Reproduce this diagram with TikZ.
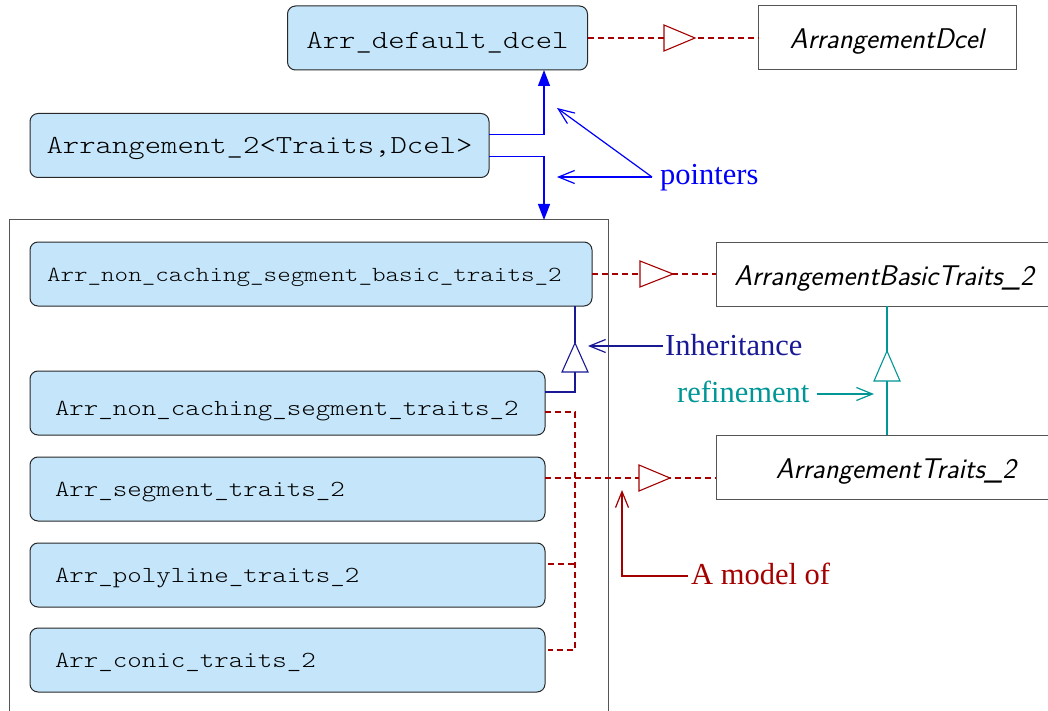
\documentclass[tikz,border=0pt]{standalone}
\usepackage{fontspec}
\setmainfont{Liberation Serif}
\setmonofont[FakeStretch=1.2]{Latin Modern Mono Light}
\usetikzlibrary{arrows.meta,calc}

\definecolor{boxfill}{RGB}{197,230,250}
\definecolor{boxline}{RGB}{40,40,40}
\definecolor{frameline}{RGB}{85,85,85}
\definecolor{ptrblue}{RGB}{0,0,250}
\definecolor{inhblue}{RGB}{25,25,150}
\definecolor{refteal}{RGB}{0,150,150}
\definecolor{modred}{RGB}{165,0,0}

\tikzset{
  classbox/.style={draw=boxline, fill=boxfill, rounded corners=8pt, line width=1pt,
    minimum height=64pt, inner ysep=0pt, outer sep=0pt, text depth=2pt},
  monobig/.style={font=\ttfamily\fontsize{26}{30}\selectfont},
  monosmall/.style={font=\ttfamily\fontsize{23}{28}\selectfont},
  conceptbox/.style={draw=frameline, fill=white, line width=1pt, minimum height=64pt,
    inner sep=0pt, outer sep=0pt, text height=24pt, text depth=2pt,
    font=\sffamily\itshape\fontsize{28.5}{32}\selectfont},
  lbl/.style={font=\fontsize{30.5}{34}\selectfont, inner sep=0pt, anchor=base west},
  realize/.style={draw=modred, dash pattern=on 6pt off 4pt, line width=1.1pt},
  hollowtri/.style={fill=white, line width=1.1pt, solid, line join=miter},
  ptr/.style={draw=ptrblue, line width=1.3pt, -{Triangle[length=16pt,width=12pt]}},
  barb/.style={line width=1.2pt, -{Straight Barb[length=16pt,width=13pt]}},
}

\begin{document}
\begin{tikzpicture}[x=1pt,y=-1pt]
\useasboundingbox (0,0) rectangle (1048,711);

% framing box of the traits classes
\node[draw=frameline, line width=1pt, minimum width=599pt, minimum height=500pt,
      anchor=north west, inner sep=0pt, outer sep=0pt] (cont) at (9,220) {};

% class boxes
\node[classbox, monobig, minimum width=300pt, text height=24pt] (dcel) at (437.5,38) {Arr\_default\_dcel};
\node[classbox, monobig, minimum width=459pt, text height=19pt] (arr) at (259.5,145.5) {Arrangement\_2<Traits,Dcel>};
\node[classbox, font=\ttfamily\fontsize{21.5}{26}\selectfont, inner xsep=17pt, text height=16pt,
      text width=528pt, align=left] (basic) at (311,274) {Arr\_non\_caching\_segment\_basic\_traits\_2};
\node[classbox, monosmall, inner xsep=25pt, text width=465pt, align=left, text height=26pt] (ncs) at (287.5,403) {Arr\_non\_caching\_segment\_traits\_2};
\node[classbox, monosmall, inner xsep=25pt, text width=465pt, align=left, text height=16pt] (seg) at (287.5,489) {Arr\_segment\_traits\_2};
\node[classbox, monosmall, inner xsep=25pt, text width=465pt, align=left, text height=16pt] (poly) at (287.5,575) {Arr\_polyline\_traits\_2};
\node[classbox, monosmall, inner xsep=25pt, text width=465pt, align=left, text height=16pt] (conic) at (287.5,660) {Arr\_conic\_traits\_2};

% concept boxes
\node[conceptbox, minimum width=258pt] (cdcel) at (887,38) {ArrangementDcel};
\node[conceptbox, minimum width=336pt] (cbasic) at (884,274) {ArrangementBasicTraits\_2};
\node[conceptbox, minimum width=360pt] (ctraits) at (896,467) {ArrangementTraits\_2};

% pointers from the arrangement
\coordinate (bus) at ($(arr.east)+(55,0)$);
\draw[ptr] ($(arr.east)+(0,-11)$) -| (bus |- dcel.south);
\draw[ptr] ($(arr.east)+(0,11)$) -| (bus |- cont.north);

% models of concepts (dashed realization)
\draw[realize] (dcel.east) -- (cdcel.west);
\draw[hollowtri, draw=modred] (664,25) -- (695,38) -- (664,51) -- cycle;
\draw[realize] (basic.east) -- (cbasic.west);
\draw[hollowtri, draw=modred] (640,261) -- (673,274) -- (640,287) -- cycle;
\draw[realize] ($(seg.east)+(0,-11)$) -- (ctraits.west |- 0,478);
\draw[hollowtri, draw=modred] (639,465) -- (670,478) -- (639,491) -- cycle;
\draw[realize] ($(ncs.east)+(0,9)$) -| ($(conic.east)+(30,-10)$) -- ($(conic.east)+(3,-10)$);
\draw[realize] ($(poly.east)+(3,-11)$) -- ($(poly.east)+(30,-11)$);

% inheritance
\draw[draw=inhblue, line width=1.2pt] ($(basic.south east)+(-17,0)$) -- (575,343);
\draw[hollowtri, draw=inhblue] (575,343) -- (588,372) -- (562,372) -- cycle;
\draw[draw=inhblue, line width=1.2pt] (575,372) |- ($(ncs.east)+(0,-11)$);

% refinement
\draw[draw=refteal, line width=1.2pt] ($(cbasic.south west)+(171,0)$) -- ($(ctraits.north west)+(171,0)$);
\draw[hollowtri, draw=refteal] (887,351) -- (900,381) -- (874,381) -- cycle;

% legend labels
\node[lbl, text=ptrblue] (ptrlbl) at (660,185) {pointers};
\draw[barb, draw=ptrblue] ($(ptrlbl.base west)+(-8,-8)$) -- (557,177);
\draw[barb, draw=ptrblue] ($(ptrlbl.base west)+(-8,-8)$) -- (557,108);

\node[lbl, text=inhblue] (inhlbl) at (665,355) {Inheritance};
\draw[barb, draw=inhblue] ($(inhlbl.base west)+(-2,-9)$) -- (588,346);

\node[lbl, text=refteal] (reflbl) at (677,402) {refinement};
\draw[barb, draw=refteal] ($(reflbl.base east)+(7,-8)$) -- (874,394);

\node[lbl, text=modred] (modlbl) at (691,584) {A model of};
\draw[barb, draw=modred] ($(modlbl.base west)+(-3,-8)$) -| (622,490);
\end{tikzpicture}
\end{document}
